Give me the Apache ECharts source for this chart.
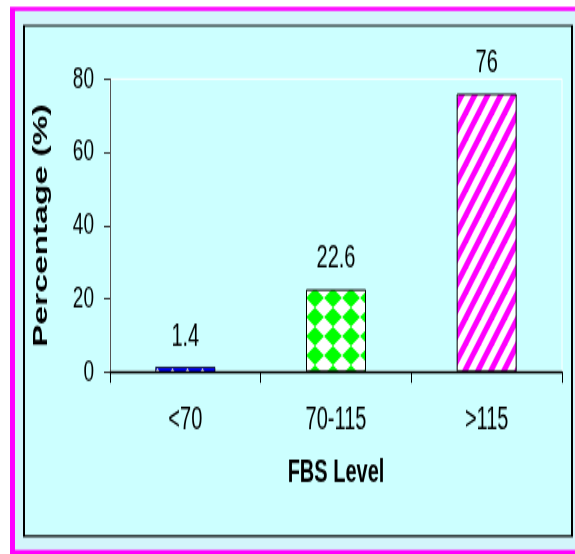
<!DOCTYPE html>
<html><head><meta charset="utf-8">
<script src="https://cdn.jsdelivr.net/npm/echarts@6/dist/echarts.min.js"></script>
<style>
html,body{margin:0;padding:0;background:#fff;overflow:hidden}
#wrap{width:575px;height:554px;overflow:hidden;position:relative}
#chart{width:575px;height:346px;transform:scaleY(1.6011561);transform-origin:0 0}
</style></head><body><div id="wrap"><div id="chart"></div></div>
<script>
// ---- data ----
const categories = ['<70', '70-115', '>115'];
const percentages = [1.4, 22.6, 76];
const yTickValues = [0, 20, 40, 60, 80];
const xAxisTitle = 'FBS Level';
const yAxisTitle = 'Percentage (%)';

// ---- layout helpers (chart drawn in a vertically compressed space, stretched by CSS) ----
const K = 554 / 346;
const py = y => y / K;
const FONT = 'Liberation Sans, Arial, sans-serif';

function makeTile(w, h, draw) {
  const c = document.createElement('canvas');
  c.width = w; c.height = h;
  draw(c.getContext('2d'), w, h);
  return c;
}
// blue with small white triangles
const tileBlue = makeTile(15, 4, (g, w, h) => {
  g.fillStyle = '#0000ff'; g.fillRect(0, 0, w, h);
  g.fillStyle = '#ffffff';
  g.beginPath(); g.moveTo(5.5, 4); g.lineTo(9.5, 4); g.lineTo(7.5, 2); g.closePath(); g.fill();
});
// green harlequin diamonds
const tileGreen = makeTile(18, 12, (g, w, h) => {
  g.fillStyle = '#ffffff'; g.fillRect(0, 0, w, h);
  g.fillStyle = '#00ff00';
  g.beginPath(); g.moveTo(w / 2, 0); g.lineTo(w, h / 2); g.lineTo(w / 2, h); g.lineTo(0, h / 2); g.closePath(); g.fill();
});
// magenta diagonal stripes
const tilePink = makeTile(13, 16, (g, w, h) => {
  g.fillStyle = '#ffffff'; g.fillRect(0, 0, w, h);
  g.fillStyle = '#ff00ff';
  const t = 6;
  for (const o of [-w, 0, w]) {
    g.beginPath(); g.moveTo(o, h); g.lineTo(o + t, h); g.lineTo(o + w + t, 0); g.lineTo(o + w, 0); g.closePath(); g.fill();
  }
});
const tiles = [tileBlue, tileGreen, tilePink];
const borderWidths = [0.7, 1, 1];

const chart = echarts.init(document.getElementById('chart'), null, { renderer: 'canvas' });
chart.setOption({
  animation: false,
  backgroundColor: '#ffffff',
  graphic: [
    { type: 'rect', z: -10, shape: { x: 10, y: py(7), width: 570, height: py(554 - 7) }, style: { fill: '#ff00ff' } },
    { type: 'rect', z: -10, shape: { x: 15, y: py(11), width: 565, height: py(550 - 11) }, style: { fill: '#d3f5fb' } },
    { type: 'rect', z: -10, shape: { x: 23, y: py(25), width: 550, height: py(537 - 25) }, style: { fill: '#000000' } },
    { type: 'rect', z: -10, shape: { x: 25, y: py(26.5), width: 546, height: py(535 - 26.5) }, style: { fill: '#ccffff' } }
  ],
  grid: {
    left: 110, right: 13, top: py(79), bottom: 346 - py(372),
    show: true, borderColor: '#ffffff', borderWidth: 1, backgroundColor: 'transparent',
    containLabel: false, outerBoundsMode: 'none'
  },
  xAxis: {
    type: 'category',
    data: categories,
    boundaryGap: true,
    axisLine: { show: true, lineStyle: { color: '#000', width: 1.3 } },
    axisTick: { show: true, inside: false, length: py(11), alignWithLabel: false, lineStyle: { color: '#000', width: 1 } },
    axisLabel: { color: '#000', fontSize: 20, fontFamily: FONT, margin: 20 },
    splitLine: { show: false },
    name: xAxisTitle, nameLocation: 'middle', nameGap: 53,
    nameTextStyle: { color: '#000', fontSize: 20, fontWeight: 'bold', fontFamily: FONT }
  },
  yAxis: {
    type: 'value',
    min: yTickValues[0], max: yTickValues[yTickValues.length - 1], interval: yTickValues[1] - yTickValues[0],
    axisLine: { show: true, lineStyle: { color: '#555', width: 1 } },
    axisTick: { show: true, inside: false, length: 6, lineStyle: { color: '#333', width: 1 } },
    axisLabel: { color: '#000', fontSize: 19, fontFamily: FONT, margin: 16 },
    splitLine: { show: false },
    name: yAxisTitle, nameLocation: 'middle', nameGap: 58, nameRotate: 90,
    nameTextStyle: { color: '#000', fontSize: 21, fontWeight: 'bold', fontFamily: FONT }
  },
  series: [{
    type: 'bar',
    barWidth: 60,
    data: percentages.map((v, i) => ({
      value: v,
      itemStyle: { color: { image: tiles[i], repeat: 'repeat' }, borderColor: '#000', borderWidth: borderWidths[i] }
    })),
    label: { show: true, position: 'top', distance: 9, color: '#000', fontSize: 20, fontFamily: FONT, formatter: '{c}' }
  }]
});
</script></body></html>
